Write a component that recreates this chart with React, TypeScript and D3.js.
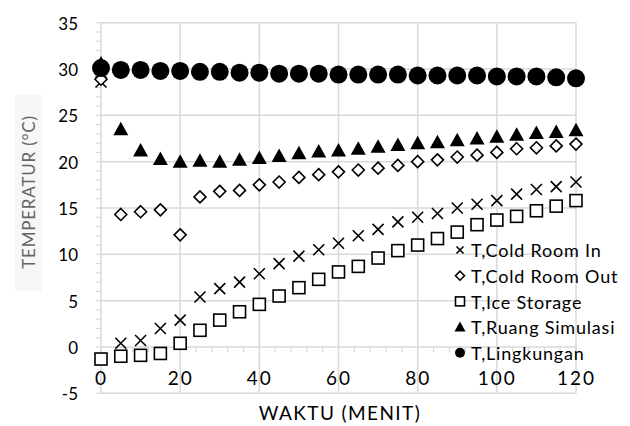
import { useEffect, useRef } from 'react';
import * as d3 from 'd3';

const times = [0, 5, 10, 15, 20, 25, 30, 35, 40, 45, 50, 55, 60, 65, 70, 75, 80, 85, 90, 95, 100, 105, 110, 115, 120];
const coldRoomIn = [28.6, 0.4, 0.7, 2.0, 2.9, 5.4, 6.3, 7.0, 7.9, 9.0, 9.8, 10.5, 11.2, 12.0, 12.7, 13.5, 14.0, 14.4, 15.0, 15.4, 15.8, 16.5, 17.0, 17.3, 17.8];
const coldRoomOut = [28.9, 14.3, 14.6, 14.8, 12.1, 16.2, 16.8, 16.9, 17.5, 17.8, 18.3, 18.6, 18.9, 19.1, 19.3, 19.6, 20.0, 20.2, 20.5, 20.7, 21.0, 21.4, 21.5, 21.7, 21.9];
const iceStorage = [-1.3, -1.0, -0.9, -0.7, 0.4, 1.8, 2.9, 3.8, 4.6, 5.5, 6.4, 7.3, 8.1, 8.7, 9.6, 10.4, 11.0, 11.7, 12.4, 13.2, 13.7, 14.1, 14.7, 15.2, 15.8];
const ruangSimulasi = [30.6, 23.5, 21.2, 20.3, 20.0, 20.1, 20.0, 20.2, 20.4, 20.6, 20.9, 21.1, 21.2, 21.4, 21.6, 21.8, 22.0, 22.1, 22.3, 22.5, 22.7, 22.9, 23.1, 23.2, 23.4];
const lingkungan = [30.1, 29.9, 29.9, 29.8, 29.8, 29.7, 29.7, 29.6, 29.6, 29.5, 29.5, 29.5, 29.4, 29.4, 29.4, 29.4, 29.3, 29.3, 29.3, 29.3, 29.2, 29.2, 29.2, 29.1, 29.0];

const seriesNames = ['T,Cold Room In', 'T,Cold Room Out', 'T,Ice Storage', 'T,Ruang Simulasi', 'T,Lingkungan'];
const xTicks = [0, 20, 40, 60, 80, 100, 120];
const yTicks = [-5, 0, 5, 10, 15, 20, 25, 30, 35];

const FONT = 'Lato, "Open Sans", sans-serif';

export default function App() {
  const svgRef = useRef<SVGSVGElement>(null);

  useEffect(() => {
    if (!svgRef.current) return;
    const svg = d3.select(svgRef.current);
    svg.selectAll('*').remove();

    const x = d3.scaleLinear().domain([0, 120]).range([101, 576]);
    const y = d3.scaleLinear().domain([-5, 35]).range([393.3, 22.7]);
    const grid = '#d9d9d9';

    // gridlines
    svg.append('g')
      .selectAll('line')
      .data(yTicks)
      .join('line')
      .attr('x1', x(0)).attr('x2', x(120))
      .attr('y1', (d) => y(d)).attr('y2', (d) => y(d))
      .attr('stroke', grid).attr('stroke-width', 1.5);
    svg.append('g')
      .selectAll('line')
      .data(xTicks)
      .join('line')
      .attr('x1', (d) => x(d)).attr('x2', (d) => x(d))
      .attr('y1', y(-5)).attr('y2', y(35))
      .attr('stroke', grid).attr('stroke-width', 1.5);

    // minor ticks on y axis
    svg.append('g')
      .selectAll('line')
      .data(d3.range(-5, 35.01, 1))
      .join('line')
      .attr('x1', x(0) - 5).attr('x2', x(0))
      .attr('y1', (d) => y(d)).attr('y2', (d) => y(d))
      .attr('stroke', grid).attr('stroke-width', 1.2);
    // minor ticks on x axis (at y=0)
    svg.append('g')
      .selectAll('line')
      .data(d3.range(0, 120.01, 4))
      .join('line')
      .attr('x1', (d) => x(d)).attr('x2', (d) => x(d))
      .attr('y1', y(0)).attr('y2', y(0) + 5)
      .attr('stroke', grid).attr('stroke-width', 1.2);

    // tick labels
    svg.append('g')
      .selectAll('text')
      .data(yTicks)
      .join('text')
      .attr('x', 78).attr('y', (d) => y(d) + 1)
      .attr('dy', '0.35em')
      .attr('text-anchor', 'end')
      .attr('font-family', FONT).attr('font-size', 17).attr('fill', '#000')
      .text((d) => d);
    svg.append('g')
      .selectAll('text')
      .data(xTicks)
      .join('text')
      .attr('x', (d) => x(d) + 0.5).attr('y', 378)
      .attr('dy', '0.35em')
      .attr('text-anchor', 'middle')
      .attr('letter-spacing', 2)
      .attr('font-family', FONT).attr('font-size', 19).attr('fill', '#000')
      .text((d) => d);

    // axis titles
    svg.append('text')
      .attr('x', 340).attr('y', 413)
      .attr('dy', '0.35em')
      .attr('text-anchor', 'middle')
      .attr('letter-spacing', 1.4)
      .attr('font-family', FONT).attr('font-size', 19).attr('fill', '#000')
      .text('WAKTU (MENIT)');
    svg.append('rect')
      .attr('x', 15).attr('y', 95).attr('width', 27).attr('height', 196)
      .attr('fill', '#f7f7f7');
    svg.append('text')
      .attr('transform', 'translate(29,192) rotate(-90)')
      .attr('dy', '0.35em')
      .attr('text-anchor', 'middle')
      .attr('letter-spacing', 0.8)
      .attr('font-family', FONT).attr('font-size', 17).attr('fill', '#666')
      .text('TEMPERATUR (\u00B0C)');

    // marker drawers
    const drawers: ((g: any, cx: number, cy: number, s: number) => void)[] = [
      (g, cx, cy, s) => {
        const h = s / 2;
        g.append('path')
          .attr('d', `M${cx - h},${cy - h}L${cx + h},${cy + h}M${cx - h},${cy + h}L${cx + h},${cy - h}`)
          .attr('stroke', '#000').attr('stroke-width', 1.6).attr('fill', 'none');
      },
      (g, cx, cy, s) => {
        const h = s / 2;
        g.append('path')
          .attr('d', `M${cx},${cy - h}L${cx + h},${cy}L${cx},${cy + h}L${cx - h},${cy}Z`)
          .attr('stroke', '#000').attr('stroke-width', 1.6).attr('fill', '#fff');
      },
      (g, cx, cy, s) => {
        const h = s / 2;
        g.append('rect')
          .attr('x', cx - h).attr('y', cy - h).attr('width', s).attr('height', s)
          .attr('stroke', '#000').attr('stroke-width', 1.6).attr('fill', '#fff');
      },
      (g, cx, cy, s) => {
        const h = s / 2;
        g.append('path')
          .attr('d', `M${cx},${cy - h}L${cx + h},${cy + h * 0.8}L${cx - h},${cy + h * 0.8}Z`)
          .attr('fill', '#000');
      },
      (g, cx, cy, s) => {
        g.append('circle').attr('cx', cx).attr('cy', cy).attr('r', s / 2).attr('fill', '#000');
      },
    ];
    const sizes = [11, 12, 12, 15, 18];
    const allSeries = [coldRoomIn, coldRoomOut, iceStorage, ruangSimulasi, lingkungan];

    const plot = svg.append('g');
    allSeries.forEach((vals, si) => {
      const g = plot.append('g');
      vals.forEach((v, i) => drawers[si](g, x(times[i]), y(v), sizes[si]));
    });

    // legend
    const legend = svg.append('g');
    const legendSizes = [7, 9, 9, 11, 10];
    seriesNames.forEach((name, i) => {
      const ly = 250 + i * 25.7;
      drawers[i](legend, 460, ly, legendSizes[i]);
      legend.append('text')
        .attr('x', 471).attr('y', ly + 1)
        .attr('dy', '0.35em')
        .attr('letter-spacing', 0.8)
        .attr('font-family', FONT).attr('font-size', 18).attr('fill', '#000')
        .text(name);
    });
  }, []);

  return (
    <svg
      ref={svgRef}
      width={630}
      height={426}
      style={{ position: 'absolute', left: 0, top: 0, background: '#fff' }}
    />
  );
}
